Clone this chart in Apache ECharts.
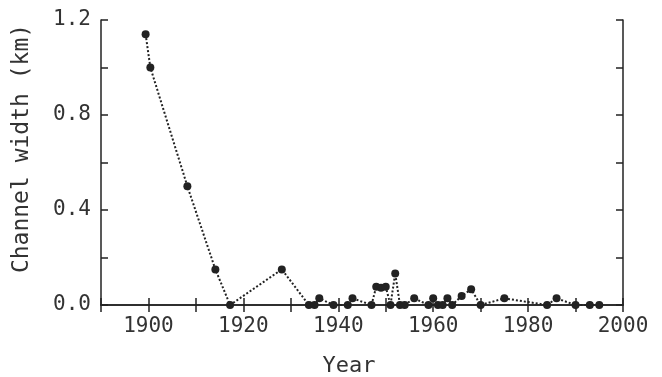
<!DOCTYPE html>
<html>
<head>
<meta charset="utf-8">
<script src="https://cdn.jsdelivr.net/npm/echarts@6/dist/echarts.min.js"></script>
<style>
html,body{margin:0;padding:0;background:#fff;}
#c{width:662px;height:377px;}
</style>
</head>
<body>
<div id="c"></div>
<script>
const years = [1899.4,1900.4,1908.2,1914.1,1917.2,1928.1,1933.8,1935,1936,1939,1942,1943,1947,1948,1949,1950,1951,1952,1953,1954,1956,1959,1960,1961,1962,1963,1964,1966,1968,1970,1975,1984,1986,1990,1993,1995];
const widths = [1.14,1.0,0.5,0.15,0,0.15,0,0,0.028,0,0,0.028,0,0.077,0.073,0.077,0,0.133,0,0,0.028,0,0.028,0,0,0.028,0,0.038,0.066,0,0.028,0,0.028,0,0,0];
const xTickLabels = [1900,1920,1940,1960,1980,2000];
const yTickLabels = [0.0,0.4,0.8,1.2];

const ink = '#222';
const txt = '#333';
const font = 'DejaVu Sans Mono';
const chart = echarts.init(document.getElementById('c'));
const axisLine = {show:true, lineStyle:{color:ink, width:1.5}};
const tick = {show:true, inside:true, length:7, lineStyle:{color:ink, width:1.5}};
chart.setOption({
  animation:false,
  backgroundColor:'#fff',
  grid:{left:101, right:39, top:20, bottom:72, containLabel:false, outerBoundsMode:'none'},
  xAxis:[{
    type:'value', min:1890, max:2000, interval:10,
    name:'Year', nameLocation:'middle', nameGap:50,
    nameTextStyle:{fontFamily:font, fontSize:22, color:txt, padding:[0,26,0,0]},
    axisLine:axisLine, axisTick:tick, splitLine:{show:false},
    axisLabel:{margin:11, fontFamily:font, fontSize:21, color:txt,
      formatter:v=> xTickLabels.includes(Math.round(v)) ? String(Math.round(v)) : ''}
  },{
    type:'value', position:'top', min:1890, max:2000, interval:10,
    axisLine:axisLine, axisTick:tick, axisLabel:{show:false}, splitLine:{show:false}
  }],
  yAxis:[{
    type:'value', min:0, max:1.2, interval:0.2,
    name:'Channel width (km)', nameLocation:'middle', nameGap:67,
    nameTextStyle:{fontFamily:font, fontSize:23, color:txt, padding:[0,0,0,28]},
    axisLine:axisLine, axisTick:tick, splitLine:{show:false},
    axisLabel:{margin:10, fontFamily:font, fontSize:21, color:txt,
      formatter:v=> yTickLabels.some(t=>Math.abs(t-v)<1e-6) ? v.toFixed(1) : ''}
  },{
    type:'value', position:'right', min:0, max:1.2, interval:0.2,
    axisLine:axisLine, axisTick:tick, axisLabel:{show:false}, splitLine:{show:false}
  }],
  series:[{
    type:'line', xAxisIndex:0, yAxisIndex:0,
    data: years.map((y,i)=>[y, widths[i]]),
    symbol:'circle', symbolSize:8,
    itemStyle:{color:ink},
    lineStyle:{color:ink, width:2, type:[2,2]}
  }]
});
</script>
</body>
</html>
